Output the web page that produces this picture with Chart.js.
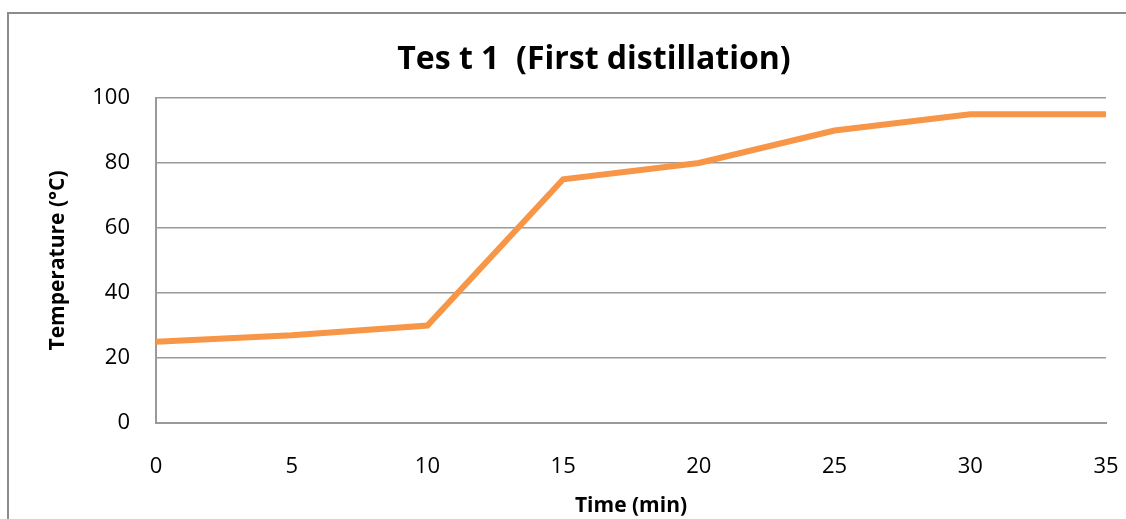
<!DOCTYPE html>
<html>
<head>
<meta charset="utf-8">
<script src="https://cdn.jsdelivr.net/npm/chart.js@4"></script>
<style>
  html, body { margin: 0; padding: 0; background: #fff; overflow: hidden; }
  #wrap { position: relative; width: 1126px; height: 519px; }
  /* outer chart frame, runs off the right and bottom edges */
  #frame {
    position: absolute; left: 7px; top: 12px; width: 1200px; height: 600px;
    border-left: 2px solid #8c8c8c; border-top: 2px solid #8c8c8c;
  }
  canvas { position: absolute; left: 0; top: 0; }
</style>
</head>
<body>
<div id="wrap">
  <div id="frame"></div>
  <canvas id="chart" width="1126" height="519"></canvas>
</div>
<script>
const TITLE = "Tes t 1  (First distillation)"
const X_LABEL = "Time (min)"
const Y_LABEL = "Temperature (°C)"
const TIMES = [0, 5, 10, 15, 20, 25, 30, 35]
const TEMPS = [25, 27, 30, 75, 80, 90, 95, 95]
const GRID = "#9a9a9a"
const FONT = "'Open Sans'"

// title sits a little left of the plot centre, so draw it ourselves
const chartTitle = {
  id: "chartTitle",
  afterDraw(chart) {
    const { ctx, chartArea } = chart
    ctx.save()
    ctx.font = `bold 32px ${FONT}`
    ctx.fillStyle = "#000"
    ctx.textAlign = "center"
    ctx.textBaseline = "alphabetic"
    ctx.fillText(TITLE, chartArea.left + chartArea.width * 0.461, 69)
    ctx.restore()
  }
}

new Chart(document.getElementById("chart"), {
  type: "line",
  data: {
    datasets: [{
      data: TIMES.map((t, i) => ({ x: t, y: TEMPS[i] })),
      borderColor: "#F79646",
      borderWidth: 6,
      pointRadius: 0,
      tension: 0,
      fill: false
    }]
  },
  options: {
    responsive: false,
    animation: false,
    layout: { padding: { left: 45, right: 20, top: 98, bottom: 0 } },
    plugins: { legend: { display: false }, title: { display: false }, tooltip: { enabled: false } },
    scales: {
      x: {
        type: "linear",
        min: 0, max: 35,
        afterFit(scale) { scale.height = 96 },
        ticks: { stepSize: 5, color: "#000", font: { family: FONT, size: 22 }, padding: 4 },
        grid: { display: false, drawTicks: true, tickLength: 27, tickColor: "transparent" },
        border: { display: true, color: GRID, width: 2 },
        title: { display: true, text: X_LABEL, color: "#000", font: { family: FONT, size: 21, weight: "bold" }, padding: { top: 0, bottom: 0 } }
      },
      y: {
        min: 0, max: 100,
        afterFit(scale) { scale.width = 111 },
        ticks: { stepSize: 20, color: "#000", font: { family: FONT, size: 22 }, padding: 4 },
        grid: { color: GRID, lineWidth: 1.5, drawTicks: true, tickLength: 22, tickColor: "transparent" },
        border: { display: true, color: GRID, width: 2 },
        title: { display: true, text: Y_LABEL, color: "#000", font: { family: FONT, size: 21, weight: "bold" }, padding: { top: 0, bottom: 0 } }
      }
    }
  },
  plugins: [chartTitle]
})
</script>
</body>
</html>
